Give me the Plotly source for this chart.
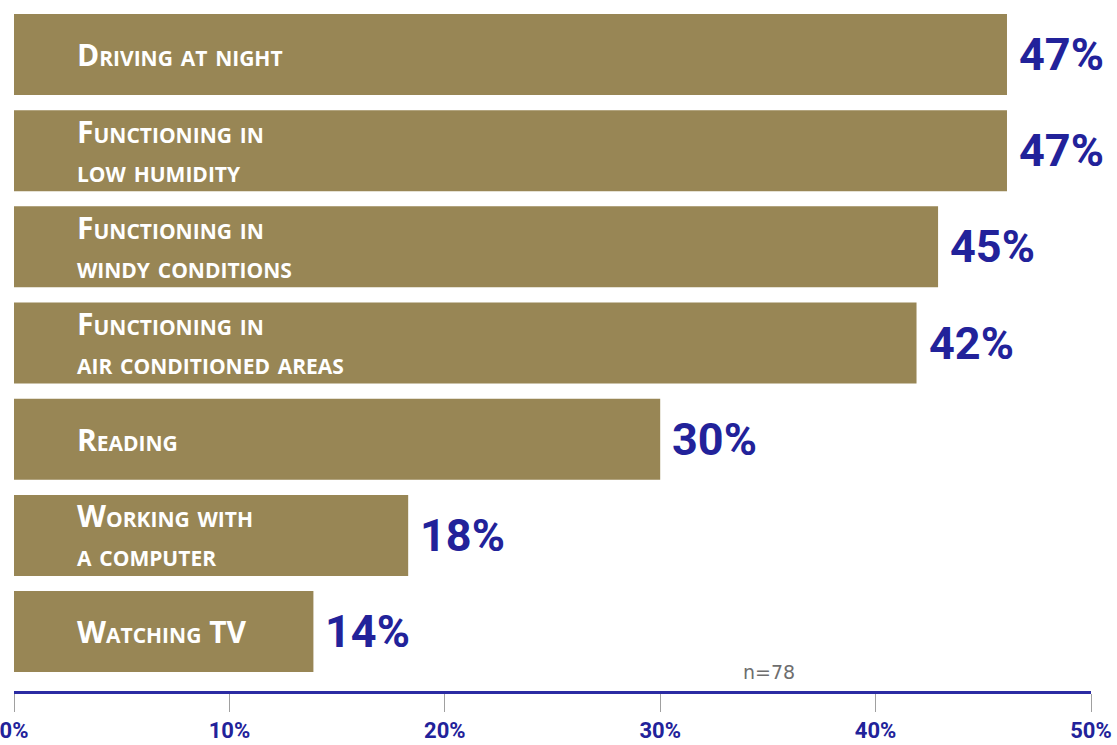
import plotly.graph_objects as go

# ---- data ----
categories = [
    "Driving at night",
    "Functioning in\nlow humidity",
    "Functioning in\nwindy conditions",
    "Functioning in\nair conditioned areas",
    "Reading",
    "Working with\na computer",
    "Watching TV",
]
# bar lengths as drawn in the reference (percent)
bar_values = [46.1, 46.1, 42.9, 41.9, 30.0, 18.3, 13.9]
# values printed next to the bars
value_labels = ["47%", "47%", "45%", "42%", "30%", "18%", "14%"]
tick_values = [0, 10, 20, 30, 40, 50]
tick_labels = ["0%", "10%", "20%", "30%", "40%", "50%"]
sample_note = "n=78"

# ---- styles ----
BAR_COLOR = "#988655"
BLUE = "#22229a"
AXIS_BLUE = "#2b2ba3"

cat_keys = [c.replace("\n", " ") for c in categories]

fig = go.Figure()
fig.add_trace(go.Bar(
    x=bar_values,
    y=cat_keys,
    orientation="h",
    marker=dict(color=BAR_COLOR, line=dict(width=0)),
    hoverinfo="skip",
))

annotations = []
for key, cat, val, lab in zip(cat_keys, categories, bar_values, value_labels):
    annotations.append(dict(
        x=2.85, y=key, xref="x", yref="y",
        text=cat.replace("\n", "<br>"), showarrow=False,
        xanchor="left", yanchor="middle", align="left",
        font=dict(family="Open Sans", size=30, color="white",
                  weight="bold", variant="small-caps"),
    ))
    annotations.append(dict(
        x=val, y=key, xref="x", yref="y",
        text=lab, showarrow=False, xanchor="left", yanchor="middle",
        xshift=10,
        font=dict(family="Roboto", size=45, color=BLUE, weight="bold"),
    ))

annotations.append(dict(
    x=35.05, y=0.028, xref="x", yref="paper",
    text=sample_note, showarrow=False, xanchor="center", yanchor="middle",
    font=dict(family="DejaVu Sans", size=19, color="#6e6e6e"),
))

fig.update_layout(
    width=1117, height=745,
    margin=dict(l=14, r=26, t=7, b=54),
    paper_bgcolor="white", plot_bgcolor="white",
    showlegend=False,
    bargap=0.158,
    annotations=annotations,
    xaxis=dict(
        range=[0, 50],
        tickvals=tick_values, ticktext=tick_labels,
        ticks="outside", ticklen=18, tickcolor="#a0a0a0", tickwidth=1,
        showline=True, linecolor=AXIS_BLUE, linewidth=3,
        showgrid=False, zeroline=False, automargin=False,
        tickfont=dict(family="Roboto", size=22, color=BLUE, weight="bold"),
        ticklabelstandoff=0,
        ticklabeloverflow="allow",
        fixedrange=True,
    ),
    yaxis=dict(
        type="category",
        categoryorder="array", categoryarray=cat_keys,
        range=[6.618, -0.494],
        showticklabels=False, showgrid=False, zeroline=False,
        showline=False, ticks="", automargin=False,
        fixedrange=True,
    ),
)

fig.write_html("out.html")
